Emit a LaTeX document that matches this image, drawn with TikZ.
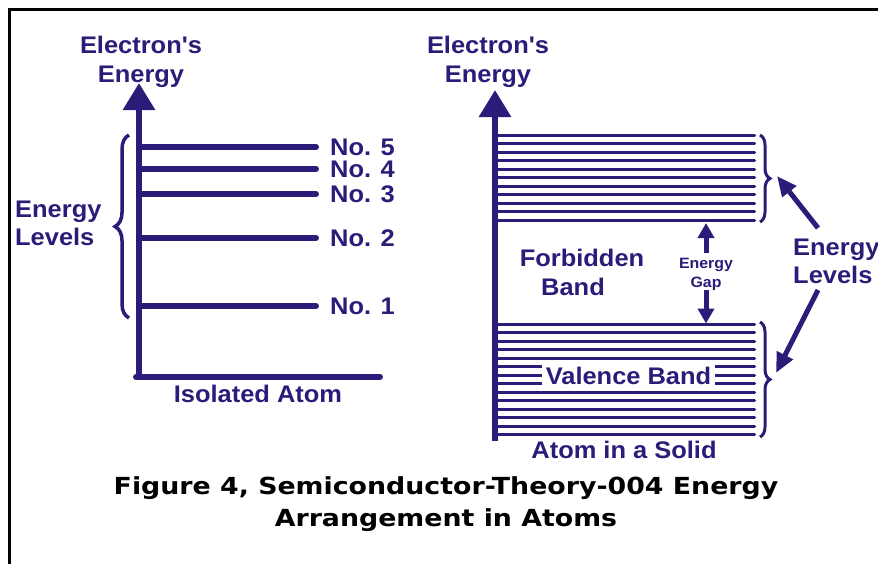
\documentclass[tikz,border=0pt]{standalone}
\usepackage{fontspec}
\setmainfont{Liberation Sans}[FakeStretch=1.06,Ligatures=TeXOff]
\newfontfamily\capfont{DejaVu Sans}[FakeStretch=1.14]
\usetikzlibrary{arrows.meta,decorations.pathreplacing}
\definecolor{ink}{RGB}{44,27,120}
\begin{document}
\begin{tikzpicture}[x=1pt,y=-1pt,
  lbl/.style={text=ink,font=\fontsize{24}{29}\selectfont\bfseries,inner sep=0pt,align=center},
  small/.style={text=ink,font=\fontsize{15}{19}\selectfont\bfseries,inner sep=0pt,align=center},
  axis/.style={draw=ink,line width=6pt},
  level/.style={draw=ink,line width=6pt,line cap=round},
  band/.style={draw=ink,line width=3pt,line cap=round},
  bracestyle/.style={draw=ink,line width=3.5pt,decorate,decoration={brace,amplitude=#1}},
  gaparrow/.style={draw=ink,line width=5pt,-{Triangle[width=16pt,length=15pt]}},
  levarrow/.style={draw=ink,line width=5pt,-{Triangle[width=17pt,length=20pt]}},
  upaxis/.style={axis,-{Triangle[width=31pt,length=27pt]}}]
\useasboundingbox (0,0) rectangle (878,563);
\clip (0,0) rectangle (878,563);
\fill[white] (0,0) rectangle (878,563);
% frame
\coordinate (fb) at (9.5,600);
\coordinate (fc) at (9.5,9.5);
\coordinate (fr) at (900,9.5);
\draw[black,line width=3pt] (fb) -- (fc) -- (fr);

% ---------- left diagram ----------
\coordinate (lorig) at (139,380);
\coordinate (ltop) at (139,83);
\coordinate (lcorner) at (136,377);
\coordinate (lright) at (380,377);
\draw[axis,line cap=round] (lcorner) -- (lright);
\draw[upaxis] (lorig) -- (ltop);
\foreach \y/\n in {147/5,169/4,194/3,238/2,306/1}{
  \coordinate (ls\n) at (139,\y);
  \coordinate (le\n) at (316,\y);
  \draw[level] (ls\n) -- (le\n);
  \node[lbl,anchor=west] (no\n) at (330,\y) {No. \n};
}
\node[lbl,anchor=base] (lenergy) at (141,82) {Electron's\\Energy};
\node[lbl,anchor=base] (iso) at (258,402) {Isolated Atom};
\coordinate (lbb) at (129,318);
\coordinate (lbt) at (129,135);
\draw[bracestyle=14pt] (lbb) -- (lbt);
\node[lbl,align=left,anchor=base west,font=\fontsize{24}{28}\selectfont\bfseries] (llev) at (15,245) {Energy\\Levels};

% ---------- right diagram ----------
\coordinate (rorig) at (495,441);
\coordinate (rtop) at (495,90);
\foreach \i in {0,...,10}{
  \coordinate (us\i) at (495,{135+8.5*\i});
  \coordinate (ue\i) at (754.5,{135+8.5*\i});
  \draw[band] (us\i) -- (ue\i);
}
\foreach \i in {0,...,13}{
  \coordinate (vs\i) at (495,{324.3+8.5*\i});
  \coordinate (ve\i) at (754.5,{324.3+8.5*\i});
  \draw[band] (vs\i) -- (ve\i);
}
\draw[upaxis] (rorig) -- (rtop);
\node[lbl,anchor=center,fill=white,text height=17pt,text depth=0pt,inner xsep=3.5pt,inner ysep=4.5pt] (val) at (628.5,375.5) {Valence Band};
\node[lbl,anchor=base] (renergy) at (488,82) {Electron's\\Energy};
\node[lbl,anchor=base] (forb) at (582,266.5) {Forbidden};
\node[lbl,anchor=base] (bandtxt) at (573,295) {Band};
\node[small,anchor=base] (gap) at (706,287) {Energy\\Gap};
\coordinate (gu0) at (706,253);
\coordinate (gu1) at (706,223);
\coordinate (gd0) at (706,290);
\coordinate (gd1) at (706,323.5);
\draw[gaparrow] (gu0) -- (gu1);
\draw[gaparrow] (gd0) -- (gd1);
\node[lbl,anchor=base] (solid) at (624,458) {Atom in a Solid};
\coordinate (ub0) at (760,135);
\coordinate (ub1) at (760,222);
\coordinate (lb0) at (760,322);
\coordinate (lb1) at (760,437);
\draw[bracestyle=10pt,line width=3pt] (ub0) -- (ub1);
\draw[bracestyle=10pt,line width=3pt] (lb0) -- (lb1);
\node[lbl,align=left,anchor=base west,font=\fontsize{24}{28}\selectfont\bfseries] (rlev) at (793,283) {Energy\\Levels};
\coordinate (a1s) at (818,228);
\coordinate (a1e) at (777,176);
\coordinate (a2s) at (818,290);
\coordinate (a2e) at (776,373);
\draw[levarrow] (a1s) -- (a1e);
\draw[levarrow] (a2s) -- (a2e);

% ---------- caption ----------
\node[anchor=base,inner sep=0pt,align=center,font=\capfont\bfseries\fontsize{23.5}{32}\selectfont] (cap) at (446,526) {Figure 4, Semiconductor-Theory-004 Energy\\Arrangement in Atoms};
\end{tikzpicture}
\end{document}
